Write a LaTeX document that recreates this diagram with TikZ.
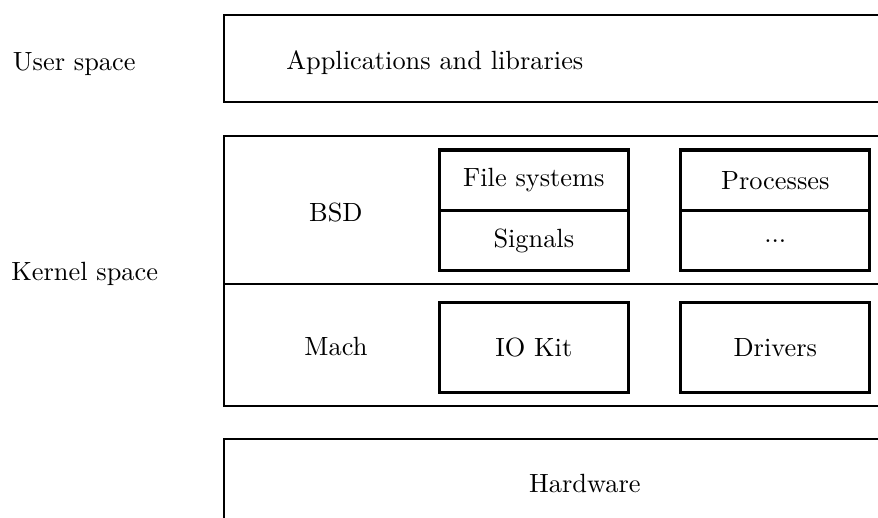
\documentclass[tikz,border=0pt]{standalone}
\begin{document}
\begin{tikzpicture}[
  layer/.style={draw, thick, rectangle, anchor=north west, inner sep=0pt, outer sep=0pt, minimum width=9.63cm},
  part/.style={draw, very thick, rectangle, anchor=north west, inner sep=0pt, outer sep=0pt, minimum width=2.52cm}]
\clip (0,0) rectangle (11.71,6.90);
\node[layer, minimum height=1.16cm] (U) at (2.99,6.70) {};
\node[layer, minimum height=1.98cm] (B) at (2.99,5.09) {};
\node[layer, minimum height=1.62cm] (M) at (B.south west) {};
\node[layer, minimum height=1.60cm] (H) at (2.99,1.05) {};
\node[part, minimum height=0.81cm] (FS) at (5.86,4.90) {File systems};
\node[part, minimum height=0.80cm] (SG) at (FS.south west) {Signals};
\node[part, minimum height=0.81cm] (PR) at (9.08,4.90) {Processes};
\node[part, minimum height=0.80cm] (ET) at (PR.south west) {...};
\node[part, minimum height=1.21cm] (IO) at (5.86,2.87) {IO Kit};
\node[part, minimum height=1.21cm] (DR) at (9.08,2.87) {Drivers};
\node (US) at (0.99,6.05) {User space};
\node (KS) at (1.13,3.25) {Kernel space};
\node (AL) at (5.80,6.07) {Applications and libraries};
\node (BL) at (4.48,4.07) {BSD};
\node (ML) at (4.48,2.28) {Mach};
\node (HL) at (7.80,0.45) {Hardware};
\end{tikzpicture}
\end{document}
